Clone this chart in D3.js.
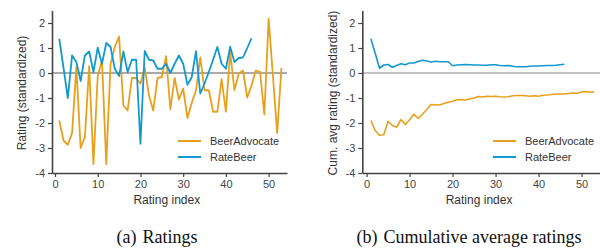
<!DOCTYPE html>
<html>
<head>
<meta charset="utf-8">
<script src="https://cdn.jsdelivr.net/npm/d3@7"></script>
<style>
    body { margin: 0; background: #fff; }
    svg { display: block; }
</style>
</head>
<body>
<div id="chart"></div>
<script>
// (a) individual ratings, standardized
var baRatings = [-1.9, -2.7, -2.87, -2.4, 0.24, -3.0, -2.55, 0.27, -3.64, -0.12,
    0.5, -3.64, 0.35, 1.04, 1.46, -1.29, -1.5, -0.2, -0.2, -0.43,
    0.21, -0.9, -1.5, -0.2, -0.16, 0.67, -1.45, -0.2, -1.06, -0.62,
    -1.8, -1.2, -0.69, 0.62, -0.69, -0.69, -1.55, -1.55, -0.25, -1.55,
    0.84, -0.69, -0.03, 0.1, -0.98, -0.49, 0.1, 0.05, -1.66, 2.17,
    -0.1, -2.4, 0.2];
var rbRatings = [1.37, 0.2, -1.0, 0.7, 0.44, -0.32, 0.7, 0.86, 0.04, 1.01,
    0.37, 1.2, 1.04, 0.17, -0.12, 0.86, 0.04, 0.53, 0.53, -2.83,
    0.88, 0.53, 0.5, 0.17, 0.17, 0.37, 0.0, 0.37, 0.7, 0.37,
    -0.47, -0.17, 0.87, -0.82, -0.42, 0.04, 0.53, 1.04, 0.37, 0.17,
    1.05, 0.44, 0.6, 0.62, 1.0, 1.39];

// (b) cumulative average ratings
var baCumAvg = [-1.9, -2.3, -2.49, -2.47, -1.93, -2.1, -2.17, -1.86, -2.06, -1.87,
    -1.65, -1.82, -1.65, -1.46, -1.26, -1.27, -1.28, -1.22, -1.17, -1.13,
    -1.07, -1.06, -1.08, -1.04, -1.0, -0.94, -0.96, -0.93, -0.94, -0.93,
    -0.95, -0.96, -0.95, -0.91, -0.9, -0.9, -0.91, -0.93, -0.91, -0.93,
    -0.89, -0.88, -0.86, -0.84, -0.84, -0.84, -0.82, -0.8, -0.81, -0.76,
    -0.74, -0.77, -0.76];
var rbCumAvg = [1.37, 0.79, 0.19, 0.32, 0.34, 0.23, 0.3, 0.37, 0.33, 0.4,
    0.4, 0.46, 0.51, 0.48, 0.44, 0.47, 0.45, 0.45, 0.45, 0.29,
    0.32, 0.33, 0.34, 0.33, 0.32, 0.32, 0.31, 0.31, 0.33, 0.33,
    0.3, 0.29, 0.3, 0.27, 0.25, 0.25, 0.25, 0.27, 0.28, 0.28,
    0.29, 0.3, 0.3, 0.31, 0.33, 0.35];

var seriesNames = ["BeerAdvocate", "RateBeer"];
var xTicks = [0, 10, 20, 30, 40, 50];
var yTicks = [-4, -3, -2, -1, 0, 1, 2];

function init() {
    var w = 600;
    var h = 249;
    var colors = ["#E8A01C", "#1499CF"];
    var font = "'Liberation Sans', Arial, sans-serif";

    var svg = d3.select("#chart")
        .append("svg")
        .attr("width", w)
        .attr("height", h);

    var y = d3.scaleLinear().domain([-4, 2.5]).range([173, 10.5]);

    function panel(opts) {
        var x = d3.scaleLinear().domain(opts.xDomain).range(opts.xRange);
        var g = svg.append("g");

        // zero line
        g.append("line")
            .attr("x1", opts.xRange[0])
            .attr("x2", opts.xRange[1])
            .attr("y1", y(0))
            .attr("y2", y(0))
            .attr("stroke", opts.zeroColor)
            .attr("stroke-width", opts.zeroWidth);

        var line = d3.line()
            .x(function (d, i) { return x(i + 1); })
            .y(function (d) { return y(d); });

        opts.series.forEach(function (s, k) {
            g.append("path")
                .datum(s)
                .attr("d", line)
                .attr("fill", "none")
                .attr("stroke", colors[k])
                .attr("stroke-width", opts.lineWidth)
                .attr("stroke-linejoin", "round");
        });

        var xAxis = g.append("g")
            .attr("transform", "translate(0," + y(-4) + ")")
            .call(d3.axisBottom(x).tickValues(xTicks).tickSize(4).tickSizeOuter(0).tickPadding(3));
        var yAxis = g.append("g")
            .attr("transform", "translate(" + opts.xRange[0] + ",0)")
            .call(d3.axisLeft(y).tickValues(yTicks).tickSize(4).tickSizeOuter(0).tickPadding(3)
                .tickFormat(function (d) { return String(d); }));

        [xAxis, yAxis].forEach(function (a) {
            a.select(".domain").attr("stroke", "#444").attr("stroke-width", 1.6);
            a.selectAll(".tick line").attr("stroke", "#444").attr("stroke-width", 1.2);
            a.selectAll(".tick text")
                .attr("fill", "#444")
                .style("font-family", font)
                .style("font-size", "11px");
        });

        // axis titles
        g.append("text")
            .text("Rating index")
            .attr("x", (x(0) + x(50)) / 2 + 5)
            .attr("y", 204)
            .attr("text-anchor", "middle")
            .attr("fill", "#333")
            .style("font-family", font)
            .style("font-size", "12px");
        g.append("text")
            .text(opts.yLabel)
            .attr("transform", "translate(" + opts.yLabelX + "," + y(-0.8) + ") rotate(-90)")
            .attr("text-anchor", "middle")
            .attr("fill", "#333")
            .style("font-family", font)
            .style("font-size", "12px");

        // legend
        seriesNames.forEach(function (name, k) {
            var ly = 141 + k * 16;
            g.append("line")
                .attr("x1", opts.legendX)
                .attr("x2", opts.legendX + 23)
                .attr("y1", ly)
                .attr("y2", ly)
                .attr("stroke", colors[k])
                .attr("stroke-width", 2);
            g.append("text")
                .text(name)
                .attr("x", opts.legendX + 32)
                .attr("y", ly + 4)
                .attr("fill", "#333")
                .style("font-family", font)
                .style("font-size", "11px");
        });

        // caption
        var cap = g.append("text")
            .attr("x", opts.capX)
            .attr("y", 243)
            .attr("text-anchor", "middle")
            .attr("fill", "#111")
            .style("font-family", "'Liberation Serif', 'DejaVu Serif', serif")
            .style("font-size", "18px");
        cap.append("tspan").text(opts.capTag);
        cap.append("tspan").attr("dx", 6).text(opts.caption);
    }

    panel({
        series: [baRatings, rbRatings],
        xDomain: [-0.7, 54.3],
        xRange: [52, 287],
        zeroColor: "#aaaaaa",
        zeroWidth: 2,
        lineWidth: 1.8,
        yLabel: "Rating (standardized)",
        yLabelX: 26,
        legendX: 178,
        capX: 157,
        capTag: "(a)",
        caption: "Ratings"
    });

    panel({
        series: [baCumAvg, rbCumAvg],
        xDomain: [-1, 54.3],
        xRange: [362.3, 600],
        zeroColor: "#888888",
        zeroWidth: 1.2,
        lineWidth: 1.6,
        yLabel: "Cum. avg rating (standardized)",
        yLabelX: 337,
        legendX: 493,
        capX: 469,
        capTag: "(b)",
        caption: "Cumulative average ratings"
    });
}
window.onload = init;
</script>
</body>
</html>
